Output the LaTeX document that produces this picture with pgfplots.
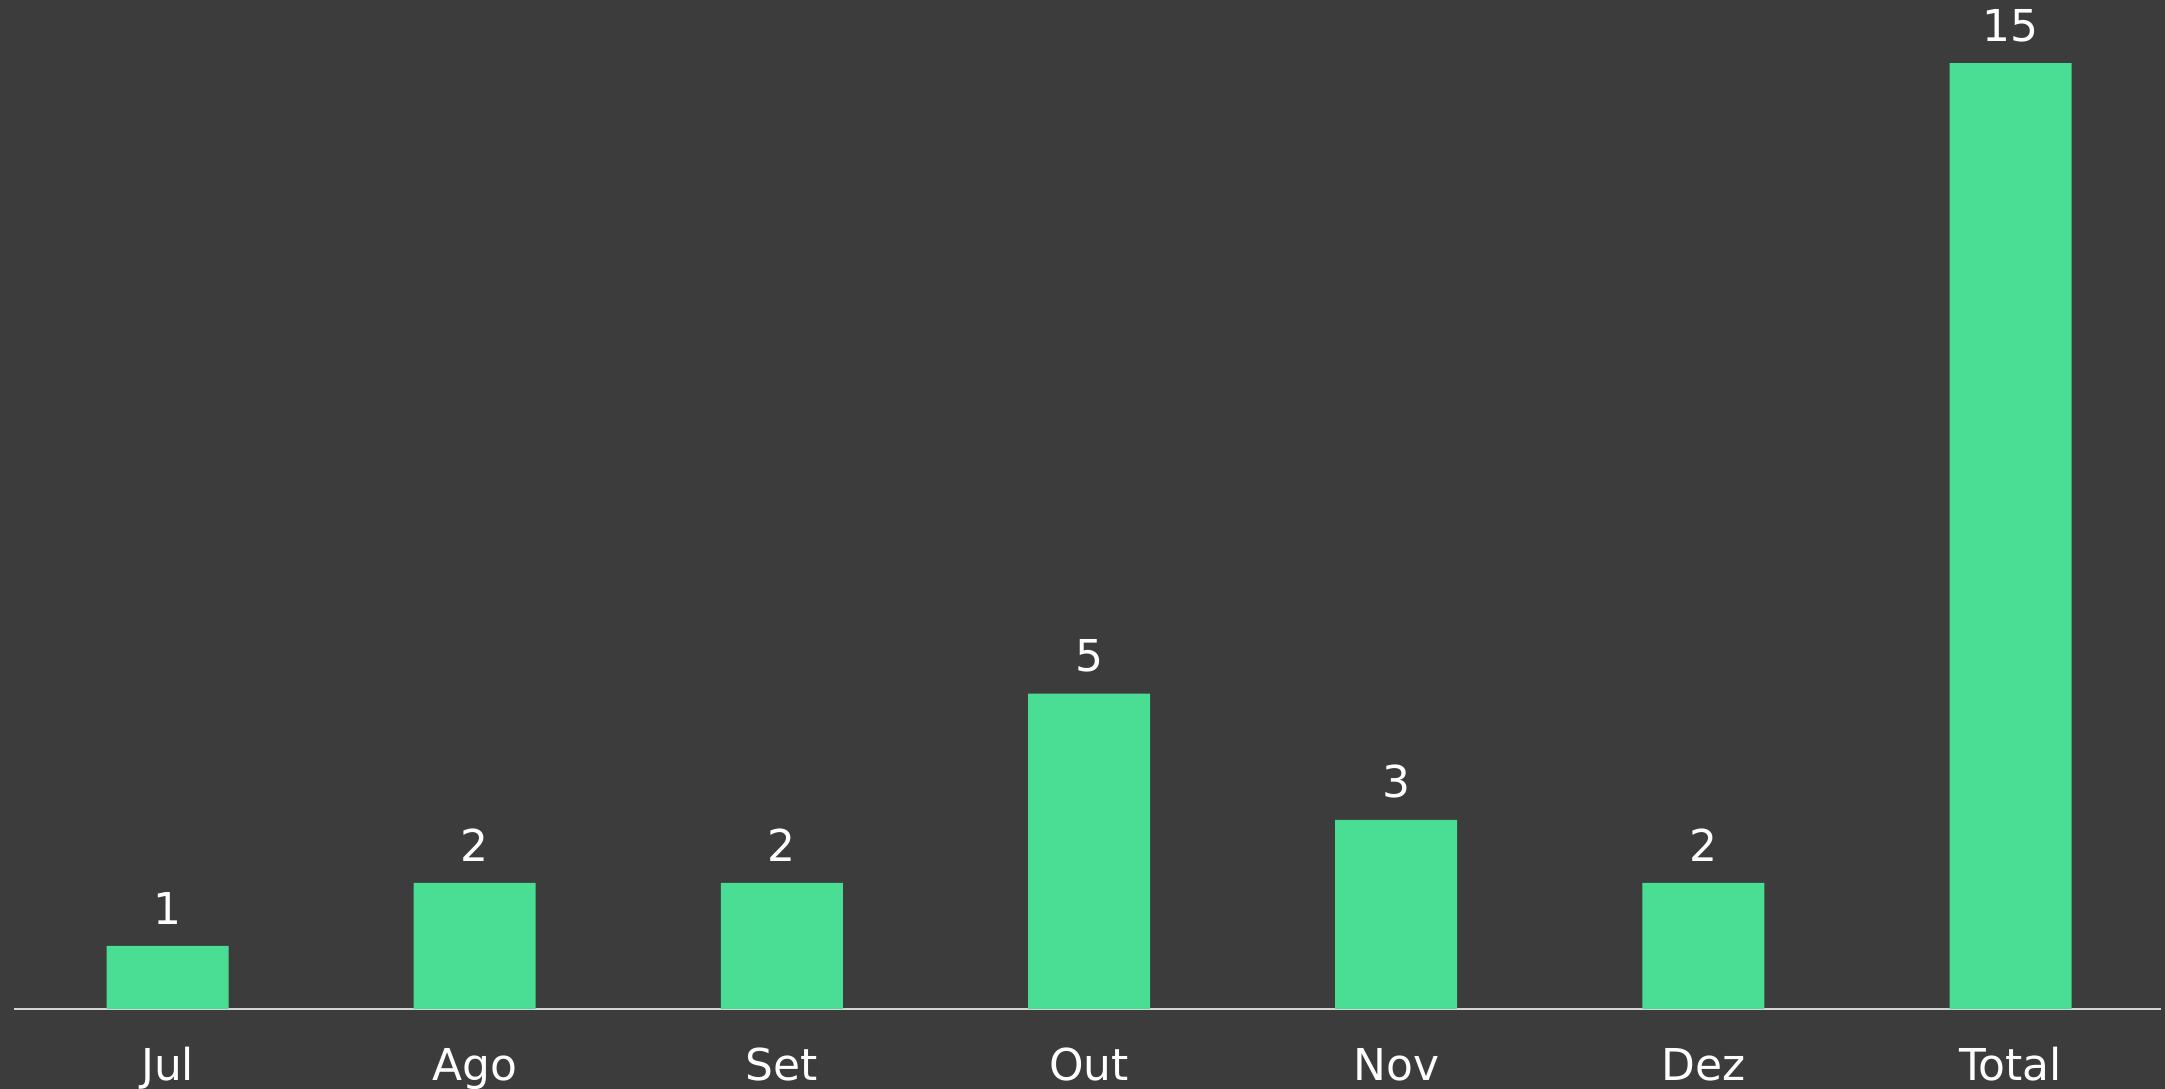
\documentclass[border=0pt]{standalone}
\usepackage{fontspec}
\setmainfont{DejaVu Sans}
\usepackage{pgfplots}
\pgfplotsset{compat=1.18}
\definecolor{bg}{HTML}{3C3C3C}
\definecolor{bar}{HTML}{4ADE94}
\definecolor{axl}{HTML}{D4D4D4}
\begin{document}
\begin{tikzpicture}[x=1mm,y=1mm]
\fill[bg] (0,0) rectangle (216.5,108.9);
\path[use as bounding box] (0,0) rectangle (216.5,108.9);
\begin{axis}[
  at={(1.4mm,8.0mm)}, anchor=south west,
  scale only axis, width=214.7mm, height=100.9mm,
  xmin=-0.5, xmax=6.49, ymin=0, ymax=16,
  axis x line=bottom, axis y line=none,
  x axis line style={-, draw=axl, line width=0.2mm},
  xtick=data, xticklabels={Jul,Ago,Set,Out,Nov,Dez,Total},
  major tick length=0pt,
  xticklabel style={anchor=base, inner sep=0pt, yshift=-7.2mm, text=white, font=\fontsize{12.5}{15}\selectfont},
  ytick=\empty,
  ybar, bar width=12.2mm,
  nodes near coords,
  every node near coord/.append style={anchor=south, inner sep=0pt, yshift=2.05mm, text=white, font=\fontsize{12.5}{15}\selectfont},
  /pgf/number format/assume math mode=true,
]
\addplot[fill=bar, draw=none] coordinates {(0,1) (1,2) (2,2) (3,5) (4,3) (5,2) (6,15)};
\end{axis}
\end{tikzpicture}
\end{document}
